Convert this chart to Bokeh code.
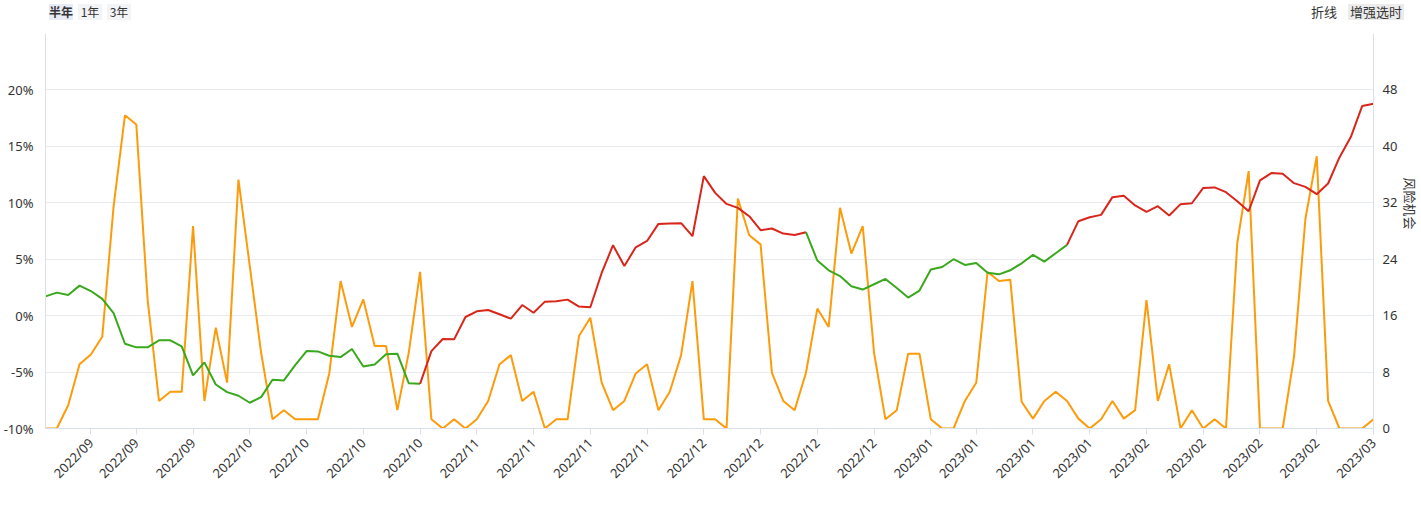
from math import pi
from bokeh.plotting import figure
from bokeh.layouts import column
from bokeh.models import Range1d, LinearAxis, FixedTicker, Title, Div
from bokeh.embed import file_html
from bokeh.resources import INLINE

# ---------------- data ----------------
# main series (%), one value per trading day
main_values = [
    1.71, 2.04, 1.83, 2.66, 2.18, 1.48, 0.23, -2.49, -2.81, -2.81,
    -2.19, -2.19, -2.72, -5.30, -4.14, -6.10, -6.78, -7.10, -7.72, -7.22,
    -5.68, -5.74, -4.38, -3.14, -3.17, -3.55, -3.67, -2.96, -4.50, -4.32,
    -3.43, -3.37, -5.98, -6.04, -3.14, -2.07, -2.10, -0.12, 0.38, 0.50,
    0.12, -0.27, 0.94, 0.26, 1.24, 1.27, 1.42, 0.80, 0.74, 3.78,
    6.24, 4.40, 6.06, 6.62, 8.13, 8.16, 8.19, 7.04, 12.36, 10.88,
    9.90, 9.55, 8.81, 7.57, 7.72, 7.27, 7.15, 7.39, 4.88, 4.02,
    3.51, 2.60, 2.31, 2.78, 3.25, 2.45, 1.60, 2.22, 4.08, 4.31,
    5.00, 4.49, 4.67, 3.81, 3.66, 4.02, 4.64, 5.38, 4.79, 5.53,
    6.27, 8.37, 8.72, 8.93, 10.50, 10.62, 9.76, 9.19, 9.70, 8.87,
    9.88, 9.96, 11.32, 11.36, 10.94, 10.14, 9.25, 11.98, 12.63, 12.57,
    11.74, 11.41, 10.76, 11.71, 14.02, 15.82, 18.57, 18.78,
]
# risk / opportunity series (right axis)
risk_values = [
    0, 0, 3.3, 9.1, 10.5, 13.0, 31.5, 44.4, 43.1, 18.2,
    3.9, 5.2, 5.2, 28.7, 3.9, 14.3, 6.5, 35.3, 23.0, 10.7,
    1.3, 2.6, 1.3, 1.3, 1.3, 7.8, 20.9, 14.4, 18.3, 11.7,
    11.7, 2.6, 10.7, 22.2, 1.3, 0, 1.3, 0, 1.3, 3.9,
    9.1, 10.4, 3.9, 5.2, 0, 1.3, 1.3, 13.1, 15.7, 6.5,
    2.6, 3.9, 7.8, 9.1, 2.6, 5.2, 10.4, 20.9, 1.3, 1.3,
    0, 32.6, 27.4, 26.1, 7.9, 3.9, 2.6, 7.9, 17.0, 14.4,
    31.3, 24.8, 28.7, 10.7, 1.3, 2.6, 10.6, 10.6, 1.3, 0,
    0, 3.9, 6.5, 22.2, 20.9, 21.1, 3.8, 1.4, 3.9, 5.2,
    3.9, 1.4, 0, 1.3, 3.9, 1.4, 2.6, 18.2, 3.9, 9.1,
    0, 2.6, 0, 1.3, 0, 26.3, 36.5, 0, 0, 0,
    10.2, 29.7, 38.6, 3.9, 0, 0, 0, 1.3,
]
# segments of the main line: (start index, end index, signal)
segments = [(0, 33, "down"), (33, 67, "up"), (67, 90, "down"), (90, 117, "up")]

tick_index = [4, 8, 13, 18, 23, 28, 33, 38, 43, 48, 53, 58, 63, 68, 73, 78,
              82, 87, 92, 97, 102, 107, 112, 117]
tick_labels = ["2022/09", "2022/09", "2022/09", "2022/10", "2022/10", "2022/10",
               "2022/10", "2022/11", "2022/11", "2022/11", "2022/11", "2022/12",
               "2022/12", "2022/12", "2022/12", "2023/01", "2023/01", "2023/01",
               "2023/01", "2023/02", "2023/02", "2023/02", "2023/02", "2023/03"]
left_ticks = [-10, -5, 0, 5, 10, 15, 20]
right_ticks = [0, 8, 16, 24, 32, 40, 48]
period_buttons = ["半年", "1年", "3年"]
view_buttons = ["折线", "增强选时"]
right_title = "风险机会"

# ---------------- style ----------------
CJK = "Noto Sans CJK SC"
NUM = "Noto Sans"
TXT = "#333333"
GREEN = "#3aa81c"
RED = "#d9261a"
ORANGE = "#fd9b0b"
AXIS = "#d9dfeb"
GRID = "#e8eaf0"

# top control row (html)
btn_pos = [(49, 24, "#e6ebf5", "bold"), (78, 24, "#f3f4f6", "normal"),
           (107, 24, "#f3f4f6", "normal")]
spans = []
for (left, w, bg, fw), t in zip(btn_pos, period_buttons):
    spans.append(
        f'<span style="position:absolute;left:{left}px;top:4px;width:{w}px;'
        f'height:16px;line-height:16px;text-align:center;background:{bg};'
        f'font-weight:{fw};">{t}</span>')
spans.append(
    f'<span style="position:absolute;left:1310px;top:4px;width:28px;height:16px;'
    f'line-height:16px;text-align:center;font-size:13px;">{view_buttons[0]}</span>')
spans.append(
    f'<span style="position:absolute;left:1348px;top:4px;width:56px;height:16px;'
    f'line-height:16px;text-align:center;font-size:13px;background:#ececec;">'
    f'{view_buttons[1]}</span>')
top_html = (f'<div style="position:relative;width:1421px;height:26px;'
            f'font-family:\'{CJK}\';font-size:12px;color:{TXT};">'
            + "".join(spans) + '</div>')
top = Div(text=top_html, width=1421, height=26, margin=0)

p = figure(width=1421, height=480, output_backend="svg", toolbar_location=None,
           x_range=Range1d(0, len(main_values) - 1), y_range=Range1d(-10, 25),
           min_border_left=44, min_border_right=47, min_border_top=7,
           min_border_bottom=78, margin=0)
p.outline_line_color = None
p.background_fill_color = "white"
p.border_fill_color = "white"

p.extra_y_ranges = {"risk": Range1d(0, 56)}

x = list(range(len(main_values)))

p.line(x, risk_values, y_range_name="risk", line_color=ORANGE, line_width=2)
for s, e, sig in segments:
    p.line(x[s:e + 1], main_values[s:e + 1],
           line_color=(RED if sig == "up" else GREEN), line_width=2)

# x axis
xa = p.xaxis[0]
xa.ticker = FixedTicker(ticks=tick_index)
xa.major_label_overrides = {t: l for t, l in zip(tick_index, tick_labels)}
xa.major_label_orientation = pi / 4
xa.axis_line_color = AXIS
xa.major_tick_line_color = AXIS
xa.major_tick_out = 6
xa.major_tick_in = 0
xa.minor_tick_line_color = None
xa.minor_tick_out = 0
xa.major_label_text_font = NUM
xa.major_label_text_font_size = "13px"
xa.major_label_text_color = TXT
xa.major_label_standoff = 6
p.xgrid.visible = False

# left axis
ya = p.yaxis[0]
ya.ticker = FixedTicker(ticks=left_ticks)
ya.major_label_overrides = {t: f"{t}%" for t in left_ticks}
ya.axis_line_color = AXIS
ya.major_tick_line_color = None
ya.major_tick_out = 0
ya.major_tick_in = 0
ya.minor_tick_line_color = None
ya.minor_tick_out = 0
ya.major_label_text_font = NUM
ya.major_label_text_font_size = "13px"
ya.major_label_text_color = TXT
ya.major_label_standoff = 12
p.ygrid.ticker = FixedTicker(ticks=left_ticks)
p.ygrid.grid_line_color = GRID

# right axis
ra = LinearAxis(y_range_name="risk", ticker=FixedTicker(ticks=right_ticks))
ra.axis_line_color = AXIS
ra.major_tick_line_color = None
ra.major_tick_out = 0
ra.major_tick_in = 0
ra.minor_tick_line_color = None
ra.minor_tick_out = 0
ra.major_label_text_font = NUM
ra.major_label_text_font_size = "13px"
ra.major_label_text_color = TXT
ra.major_label_standoff = 9
p.add_layout(ra, "right")

rt = Title(text=right_title, align="left", offset=144, text_font=CJK,
           text_font_size="13px", text_font_style="normal", text_color=TXT,
           standoff=0)
p.add_layout(rt, "right")

layout = column(top, p, spacing=0, margin=0)
open("out.html", "w").write(file_html(layout, INLINE))
